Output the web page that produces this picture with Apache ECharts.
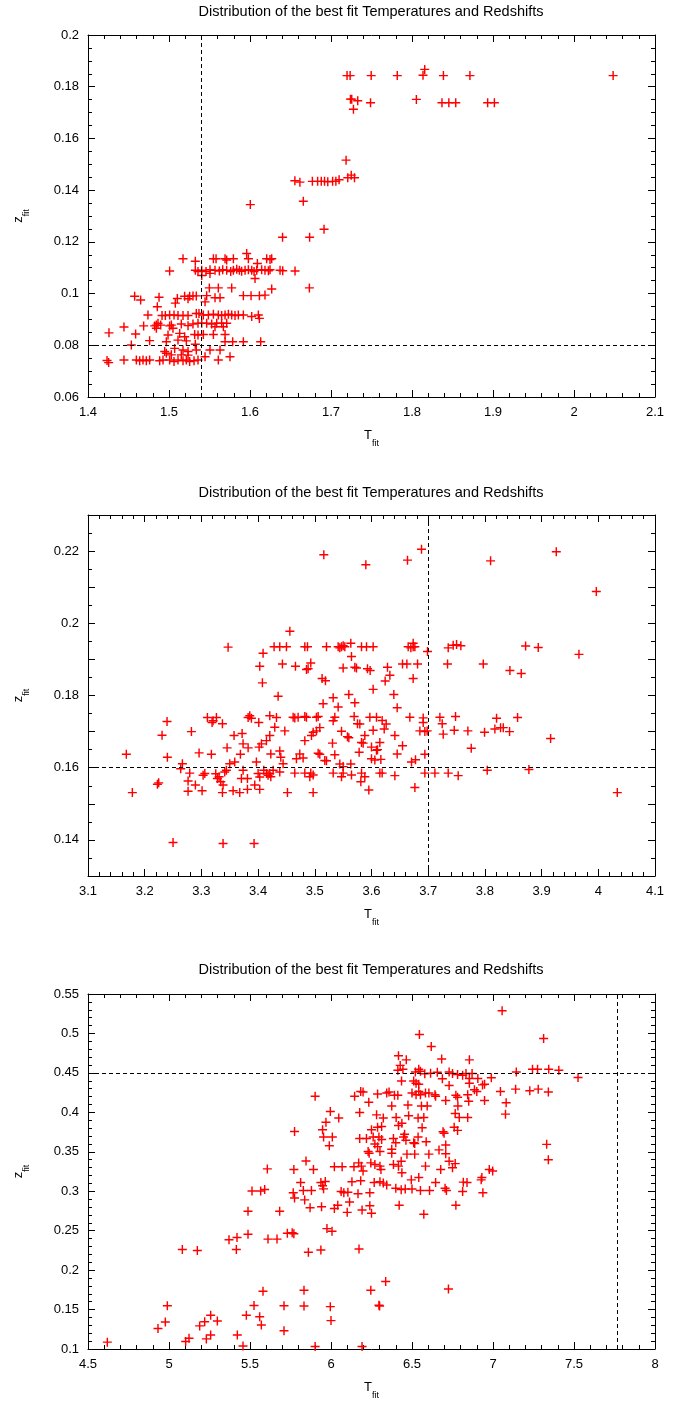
<!DOCTYPE html>
<html><head><meta charset="utf-8">
<script src="https://cdn.jsdelivr.net/npm/echarts@6/dist/echarts.min.js"></script>
<style>html,body{margin:0;padding:0;background:#fff}#c{width:682px;height:1401px}</style>
</head><body><div id="c"></div>
<script>
const chartTitle = 'Distribution of the best fit Temperatures and Redshifts';
const tCut = [1.54, 3.7, 7.77];
const zCut = [0.08, 0.16, 0.45];

const pts1 = [
[1.5173,0.1135],[1.5325,0.1125],[1.5008,0.1087],[1.5325,0.109],[1.5358,0.1085],
[1.4576,0.099],[1.465,0.0975],[1.4877,0.0986],[1.4856,0.0949],[1.5103,0.0981],[1.5078,0.0963],
[1.5193,0.099],[1.5255,0.099],[1.5296,0.0991],[1.5337,0.0991],[1.5235,0.098],
[1.474,0.0917],[1.4914,0.0915],[1.4955,0.0915],[1.5008,0.0917],[1.5062,0.0917],[1.5111,0.0915],[1.5173,0.0915],[1.5235,0.0915],
[1.5337,0.0923],[1.537,0.0923],
[1.4864,0.0885],[1.4897,0.0878],[1.4844,0.0878],
[1.5029,0.0878],[1.5152,0.0882],[1.5235,0.0876],[1.5296,0.0882],[1.5358,0.0885],
[1.4444,0.0871],[1.4687,0.0875],[1.4823,0.0875],[1.4844,0.0866],[1.5008,0.0875],[1.5049,0.0866],
[1.4259,0.0848],[1.4588,0.0844],[1.4988,0.084],[1.5132,0.0846],[1.5193,0.0833],[1.5317,0.0842],[1.5358,0.084],
[1.4761,0.0818],[1.4967,0.0814],[1.5111,0.082],[1.5214,0.0817],[1.5325,0.0804],
[1.4535,0.0801],
[1.4947,0.0776],[1.507,0.0788],[1.5173,0.0782],[1.5235,0.0776],[1.5337,0.0782],
[1.4235,0.0741],[1.4255,0.0733],[1.4444,0.0743],
[1.4597,0.0743],[1.4638,0.074],[1.4679,0.0743],[1.472,0.074],[1.4761,0.0743],
[1.4885,0.074],[1.4926,0.0743],
[1.5008,0.0743],[1.5062,0.0737],[1.5111,0.0743],[1.5173,0.074],[1.5214,0.0743],[1.5255,0.0737],[1.5309,0.074],[1.5358,0.0743],
[1.5029,0.0763],[1.4967,0.0769],[1.5152,0.0763],[1.5235,0.0762],
[1.5404,0.109],[1.5457,0.1085],[1.5506,0.1092],[1.5568,0.109],[1.5622,0.1087],[1.5663,0.1092],[1.5712,0.109],[1.5762,0.1085],
[1.5795,0.109],[1.5836,0.1094],[1.5869,0.109],[1.5897,0.1086],[1.5939,0.109],[1.598,0.1092],[1.6021,0.109],[1.605,0.1085],
[1.6083,0.109],[1.6144,0.1092],[1.6185,0.109],[1.6227,0.1088],[1.6247,0.1092],[1.6371,0.109],[1.6404,0.1088],[1.6556,0.1087],
[1.5548,0.1135],[1.5581,0.1135],[1.5692,0.1135],[1.5712,0.113],[1.5795,0.1135],[1.5959,0.1155],[1.598,0.1135],[1.6091,0.1116],
[1.6206,0.1135],[1.6247,0.1132],[1.6268,0.1135],
[1.6062,0.1058],[1.5404,0.107],[1.5506,0.1078],
[1.5498,0.1022],[1.5609,0.1022],[1.5774,0.1022],[1.6268,0.1018],[1.6733,0.1022],
[1.5465,0.0992],[1.5918,0.0992],[1.6013,0.0992],[1.6116,0.0992],[1.6185,0.0994],
[1.5568,0.0984],[1.563,0.0984],[1.5445,0.0968],
[1.5424,0.0917],[1.5486,0.0917],[1.5548,0.092],[1.5609,0.0917],[1.565,0.0915],[1.5692,0.0917],[1.5733,0.092],[1.5774,0.0917],
[1.5815,0.0915],[1.5856,0.0917],[1.5918,0.0917],
[1.6021,0.0911],[1.6103,0.0917],[1.6116,0.0904],
[1.5404,0.0885],[1.5465,0.0885],[1.5527,0.0882],[1.5589,0.0885],[1.565,0.0885],[1.5712,0.0885],
[1.5568,0.0872],[1.5671,0.0872],
[1.5424,0.0842],[1.5548,0.0842],[1.5692,0.0842],
[1.5692,0.0814],[1.5786,0.0814],[1.5918,0.0814],[1.6132,0.0814],
[1.5506,0.0782],[1.563,0.0782],
[1.5445,0.0756],[1.5753,0.0756],[1.5609,0.0743],
[1.6004,0.1344],[1.6658,0.1357],[1.6914,0.1249],[1.6402,0.1218],[1.6736,0.1218],
[1.7198,0.1843],[1.7236,0.1843],[1.7496,0.1843],[1.7818,0.1843],[1.8157,0.1867],[1.8136,0.1844],[1.8388,0.1843],[1.8715,0.1843],[2.0483,0.1843],
[1.724,0.1752],[1.7256,0.1752],[1.733,0.1746],[1.7277,0.1713],[1.7488,0.1738],[1.8054,0.1751],[1.837,0.1738],[1.8455,0.1738],[1.854,0.1738],[1.8934,0.1738],[1.9017,0.1738],
[1.7186,0.1516],[1.6554,0.1436],[1.6616,0.1431],[1.677,0.1434],[1.6835,0.1434],[1.688,0.1434],[1.692,0.1434],[1.696,0.1432],[1.702,0.1434],[1.706,0.1434],[1.71,0.144],
[1.7207,0.1448],[1.725,0.1458],[1.729,0.1448]
];

const pts2 = [
[3.1676,0.1637],[3.1782,0.1531],[3.2224,0.1554],[3.2247,0.1558],[3.2306,0.169],[3.2394,0.1728],[3.24,0.1629],[3.25,0.1393],
[3.2665,0.1611],[3.2635,0.1597],[3.2794,0.1585],[3.2765,0.1563],[3.2765,0.1535],[3.2824,0.17],[3.2894,0.1552],[3.2959,0.1641],
[3.3012,0.1536],[3.303,0.1579],[3.306,0.1584],[3.3106,0.1739],[3.3206,0.173],[3.3265,0.1739],[3.3188,0.1725],[3.3176,0.1637],
[3.3253,0.1583],[3.3282,0.157],[3.3312,0.1575],[3.3341,0.1561],[3.3371,0.1722],[3.3371,0.1531],[3.3382,0.139],[3.3382,0.1552],
[3.3441,0.1593],[3.3412,0.1588],[3.3453,0.1655],[3.3471,0.1934],[3.35,0.1611],[3.3559,0.1536],[3.3676,0.1531],[3.3576,0.1689],
[3.3588,0.1616],[3.3706,0.157],[3.3735,0.1593],[3.3718,0.1695],[3.3688,0.1637],[3.3735,0.1666],[3.3812,0.157],[3.3824,0.1655],
[3.3812,0.154],[3.3853,0.1744],[3.3882,0.1737],[3.3824,0.1739],[3.3941,0.1552],[3.3929,0.139],[3.397,0.1616],[3.4,0.1584],
[3.4029,0.1574],[3.4012,0.1725],[3.4018,0.1657],[3.4029,0.1881],[3.4029,0.154],[3.4059,0.1666],[3.4088,0.1917],[3.4076,0.1835],
[3.41,0.1593],[3.4147,0.1584],[3.4176,0.1579],[3.4224,0.1575],[3.4265,0.1593],[3.4206,0.1584],[3.4147,0.1675],[3.4206,0.1744],
[3.4206,0.1689],[3.4224,0.1638],[3.4282,0.1935],[3.4382,0.1935],[3.45,0.1935],[3.4353,0.1798],[3.4429,0.1887],[3.4294,0.1712],
[3.4324,0.1739],[3.4382,0.1646],[3.44,0.1629],[3.4382,0.1588],[3.4441,0.1611],[3.4471,0.1702],[3.4518,0.1531],[3.456,0.1978],
[3.5159,0.219],[3.59,0.2162],[3.6635,0.2175],[3.6882,0.2205],
[3.4824,0.1935],[3.4871,0.1935],[3.5206,0.1935],[3.5412,0.1935],[3.5441,0.1932],[3.5471,0.1935],[3.55,0.1938],[3.5529,0.1935],
[3.5824,0.1935],[3.5912,0.1935],[3.6029,0.1935],[3.6647,0.1935],[3.6694,0.1932],[3.6735,0.1935],[3.6765,0.1935],
[3.6735,0.1945],[3.5635,0.1945],[3.6988,0.1922],[3.5647,0.1908],[3.4659,0.1881],[3.4929,0.189],[3.4853,0.1872],[3.4882,0.1874],
[3.55,0.1876],[3.5706,0.1878],[3.5735,0.1876],[3.5929,0.1874],[3.5976,0.1869],[3.6282,0.1878],[3.6547,0.1887],[3.6624,0.1887],
[3.6812,0.1887],[3.6324,0.1856],[3.6241,0.184],[3.6735,0.1847],[3.5129,0.1847],[3.5188,0.1841],[3.6029,0.1817],[3.56,0.1803],
[3.6394,0.1803],[3.5324,0.1794],[3.5147,0.1777],[3.5706,0.178],[3.5412,0.1768],[3.6453,0.1766],
[3.4618,0.174],[3.4647,0.1738],[3.4706,0.174],[3.4824,0.1742],[3.4853,0.174],[3.5029,0.174],[3.5059,0.1742],[3.5353,0.174],
[3.5694,0.1742],[3.5971,0.174],[3.6088,0.174],[3.6676,0.174],[3.6912,0.1738],
[3.5324,0.173],[3.5753,0.1722],[3.5794,0.1721],[3.6188,0.1731],[3.6259,0.1721],[3.6912,0.1725],[3.6941,0.17],[3.6982,0.1702],
[3.6853,0.1702],[3.5088,0.1711],[3.4971,0.1698],[3.5029,0.1702],[3.5471,0.1701],[3.6029,0.1704],[3.6224,0.1707],[3.4824,0.1675],
[3.4941,0.1689],[3.5576,0.1686],[3.56,0.1683],[3.5882,0.1689],[3.5824,0.167],[3.5853,0.1668],[3.6147,0.167],[3.6412,0.1689],
[3.5312,0.1668],[3.6547,0.1661],[3.4735,0.1638],[3.5059,0.164],[3.5088,0.1637],[3.5353,0.1636],[3.5782,0.1643],[3.6,0.1657],
[3.6088,0.1648],[3.6106,0.165],[3.6453,0.1638],[3.6941,0.1637],[3.4676,0.1625],[3.4794,0.1627],[3.5176,0.162],[3.5206,0.1619],
[3.6,0.1625],[3.6059,0.1621],[3.6165,0.1623],[3.6706,0.1616],[3.6776,0.1622],[3.5441,0.161],[3.55,0.1603],[3.5635,0.161],
[3.4647,0.1585],[3.4824,0.1585],[3.4912,0.1575],[3.4929,0.1585],[3.4971,0.158],[3.5324,0.1585],[3.5471,0.1575],[3.55,0.1585],
[3.5647,0.158],[3.5824,0.1585],[3.5882,0.1575],[3.6147,0.1585],[3.6188,0.1585],[3.6412,0.1578],[3.6941,0.1585],[3.7118,0.1585],
[3.7353,0.1585],[3.7529,0.1578],
[3.5812,0.1561],[3.4971,0.1531],[3.5953,0.1538],[3.6765,0.1545],
[3.7353,0.1932],[3.7441,0.1939],[3.75,0.1941],[3.7576,0.1938],[3.7341,0.1887],[3.7206,0.174],[3.7247,0.1722],[3.7265,0.1693],
[3.7459,0.1704],[3.7482,0.1742],
[3.81,0.2173],[3.9259,0.2198],[3.9965,0.2088],[3.8718,0.1937],[3.8941,0.1933],[3.9659,0.1914],[3.7971,0.1887],[3.8441,0.1869],
[3.8641,0.1861],[3.77,0.1702],[3.7759,0.1654],[3.7994,0.1698],[3.8206,0.1737],[3.8176,0.1707],[3.8276,0.1711],[3.8324,0.1711],
[3.8435,0.17],[3.8576,0.1739],[3.9159,0.1681],[3.8041,0.1593],[3.8776,0.1595],[4.0335,0.1531]
];

const pts3 = [
[4.6193,0.1087],[4.932,0.126],[4.9774,0.1342],[4.9897,0.1548],[5.0823,0.2261],[5.1749,0.2248],[5.1029,0.1095],[5.1235,0.1136],
[5.1893,0.1293],[5.2202,0.1346],[5.2572,0.1429],[5.2984,0.1354],[5.2305,0.1128],[5.2572,0.1177],[5.3704,0.2384],[5.4198,0.2413],
[5.4156,0.2261],[5.4218,0.1177],[5.4568,0.1037],[5.4774,0.1429],[5.4877,0.2747],[5.4877,0.2454],[5.5123,0.3002],[5.5658,0.3002],
[5.5905,0.3023],[5.607,0.3283],[5.5247,0.1552],[5.5597,0.1408],[5.57,0.1305],[5.5802,0.1733],[5.6111,0.2393],[5.6667,0.2393],
[5.6831,0.2747],[5.7099,0.1548],[5.7099,0.1231],[5.7305,0.2467],
[6.5458,0.4986],[6.6188,0.4834],[6.4167,0.4718],[6.4646,0.4665],[6.6833,0.4677],[6.8542,0.4665],[6.4271,0.4595],
[6.4125,0.4533],[6.4438,0.4545],[6.5208,0.4512],[6.5417,0.4545],[6.5521,0.4521],
[6.4354,0.4397],[6.5104,0.4397],[6.525,0.4368],[6.5417,0.4356],
[6.579,0.4488],[6.6146,0.4496],[6.6563,0.4508],[6.6875,0.4426],[6.7292,0.4512],[6.75,0.4492],[6.7813,0.448],[6.8125,0.4471],
[6.8333,0.4492],[6.8542,0.443],[6.8708,0.4492],
[6.7292,0.434],[6.8542,0.4368],
[5.9021,0.4203],[6.1458,0.4203],[6.1833,0.4265],[6.1979,0.4257],[6.2875,0.4232],[6.3438,0.4245],[6.3583,0.4257],[6.3917,0.4216],
[6.4125,0.4216],[6.5,0.4245],[6.525,0.4224],[6.5417,0.4265],[6.5521,0.4224],[6.5833,0.4245],[6.6042,0.4245],[6.6417,0.4224],
[6.6458,0.4203],[6.7083,0.415],[6.7708,0.4216],[6.7813,0.4191],[6.8438,0.4224],[6.85,0.414],
[6.2333,0.4129],[6.375,0.408],[6.475,0.4092],[6.5583,0.408],[6.5938,0.408],[6.7833,0.408],
[5.9958,0.401],[6.0479,0.3927],[6.1771,0.3997],[6.2813,0.3968],[6.3229,0.3927],[6.4021,0.3935],[6.4792,0.3956],[6.5375,0.3927],
[6.5729,0.3935],[6.7667,0.3985],[6.7917,0.3935],[6.8438,0.3935],
[5.9688,0.3874],[6.4167,0.3833],[6.4375,0.3861],[5.9479,0.3779],[5.775,0.3758],[6.25,0.3779],[6.2875,0.3812],[6.3125,0.382],
[6.5625,0.3804],[6.6979,0.3734],[6.6917,0.3755],[6.7604,0.3812],[6.7813,0.3771],
[5.9542,0.3688],[6.0083,0.3688],[6.1771,0.3668],[6.2188,0.3668],[6.2604,0.3688],[6.2958,0.3688],[6.3125,0.3655],[6.3854,0.3668],
[6.4,0.3614],[6.4479,0.3688],[6.4625,0.3647],[6.4542,0.3721],[6.5375,0.3688],[6.5104,0.3614],[6.5167,0.3606],[6.5875,0.3627],
[5.9896,0.3577],[6.2708,0.3598],[6.2875,0.3565],[6.7083,0.3585],
[6.2292,0.3503],[6.2354,0.3482],[6.3021,0.3503],[6.375,0.3532],[6.375,0.3482],[6.4688,0.347],[6.5167,0.347],[6.6042,0.347],
[6.6667,0.3524],[6.7083,0.3474],
[5.8458,0.3384],[5.7708,0.3276],[5.8917,0.3276],[6.0208,0.331],[6.0688,0.331],[6.1417,0.331],[6.1708,0.3359],[6.1875,0.3318],
[6.1979,0.3256],[6.2458,0.3359],[6.2708,0.3338],[6.3021,0.3318],[6.3083,0.3276],[6.4167,0.3318],[6.3854,0.3338],[6.4333,0.3379],
[6.4375,0.3235],[6.5833,0.3318],[6.6771,0.3276],[6.7292,0.3379],[6.7667,0.335],[6.75,0.3297],
[5.8125,0.3111],[5.9375,0.3111],[5.9479,0.307],[5.9646,0.3124],[5.9542,0.303],[6.1292,0.312],[6.1833,0.3132],[6.2667,0.3111],
[6.3021,0.312],[6.3229,0.3103],[6.3438,0.3078],[6.4,0.3037],[6.4333,0.302],[6.4583,0.3029],[6.5,0.3029],[6.4958,0.3144],
[6.5417,0.3173],[6.552,0.3008],[6.6083,0.3008],[6.6458,0.3111],[6.7042,0.3037],[6.7125,0.3008],[6.8167,0.3115],[6.8125,0.2996],
[6.8396,0.3111],
[5.7667,0.298],[5.775,0.2915],[5.8292,0.3008],[5.8375,0.289],[5.8792,0.3008],[6.0625,0.2996],[6.0792,0.298],[6.1042,0.2988],
[6.1146,0.2864],[6.1667,0.2967],[6.2396,0.298],[6.2396,0.2815],[6.25,0.272],
[6.0208,0.2782],[6.0417,0.2823],[5.9417,0.2802],[5.8708,0.279],[6.1,0.2732],[6.1917,0.2761],[6.4208,0.2823],[6.5729,0.2708],
[6.7708,0.2823],
[5.7604,0.2473],[5.7708,0.246],[5.975,0.2526],[6.0063,0.2493],[5.8604,0.2226],[5.9375,0.2254],[6.1729,0.2267],
[6.3375,0.1855],[6.2458,0.1744],[5.8333,0.1744],[6.725,0.176],[5.8333,0.1546],[5.9958,0.1537],[6.2958,0.1554],[6.3,0.1546],
[6.0,0.136],[5.9021,0.1031],[6.1917,0.1031],
[7.0563,0.5287],[7.3125,0.4937],[7.1438,0.4512],[7.2438,0.4545],[7.275,0.4545],[7.3438,0.4545],[7.4063,0.4533],[7.525,0.4442],
[6.9063,0.443],[6.9896,0.4438],[6.9354,0.4348],[6.9479,0.4356],[6.9,0.4265],[6.8854,0.4286],[7.0458,0.4265],[7.1396,0.4294],
[7.2271,0.4273],[7.2792,0.4294],[7.3417,0.4257],[6.9479,0.415],[7.0813,0.4121],[7.0771,0.3977],[7.3313,0.3594],[7.3417,0.34],
[6.9771,0.3276],[6.9979,0.3256],[6.9271,0.3144],[6.9313,0.3173],[6.9375,0.298]
];

const panels = [
  {pts: pts1, x: {min:1.4, max:2.1, interval:0.1, minor:5}, y: {min:0.06, max:0.2, interval:0.02, minor:4}, top:35, height:362, titleTop:4},
  {pts: pts2, x: {min:3.1, max:4.1, interval:0.1, minor:5}, y: {min:0.13, max:0.23, interval:0.01, minor:2, every2:true}, top:515, height:361, titleTop:485},
  {pts: pts3, x: {min:4.5, max:8, interval:0.5, minor:5}, y: {min:0.1, max:0.55, interval:0.05, minor:5}, top:994, height:363, titleTop:962}
];

const FONT = '"Liberation Sans", Arial, Helvetica, sans-serif';
const plus = 'path://M0,4.2H10V5.8H0Z M4.2,0H5.8V10H4.2Z';
const nameRich = {
  m: {fontSize: 13, fontFamily: FONT, color: '#000', lineHeight: 19, verticalAlign: 'top'},
  s: {fontSize: 9, fontFamily: FONT, color: '#000', lineHeight: 19, verticalAlign: 'bottom'}
};

const grid = [], xAxis = [], yAxis = [], series = [], title = [];
panels.forEach((p, i) => {
  grid.push({left: 88, width: 567, top: p.top, height: p.height, show: false});
  title.push({text: chartTitle, left: 371, textAlign: 'center', top: p.titleTop, padding: 0,
    textStyle: {fontSize: 14.5, fontWeight: 'normal', color: '#000', fontFamily: FONT}});
  const line = {show: true, onZero: false, lineStyle: {color: '#000', width: 1}};
  const tick = {show: true, inside: true, length: 7, lineStyle: {color: '#000', width: 1}};
  const mt = (n) => ({show: true, splitNumber: n, length: 4, lineStyle: {color: '#000', width: 1}});
  const lab = {color: '#000', fontSize: 13, fontFamily: FONT};
  ['bottom', 'top'].forEach((pos) => {
    xAxis.push(Object.assign({type: 'value', gridIndex: i, position: pos, min: p.x.min, max: p.x.max, interval: p.x.interval,
      axisLine: line, axisTick: tick, minorTick: mt(p.x.minor), splitLine: {show: false}, minorSplitLine: {show: false},
      axisLabel: pos === 'bottom' ? Object.assign({margin: 9}, lab) : {show: false}},
      pos === 'bottom' ? {name: '{m|T}{s|fit}', nameLocation: 'middle', nameGap: 32, nameTextStyle: {rich: nameRich}} : {}));
  });
  ['left', 'right'].forEach((pos) => {
    const labelCfg = pos === 'left' ? Object.assign({margin: 9}, lab) : {show: false};
    if (pos === 'left' && p.y.every2) {
      labelCfg.formatter = (v) => (Math.round(v * 100) % 2 === 0 ? String(+v.toFixed(2)) : '');
    }
    yAxis.push(Object.assign({type: 'value', gridIndex: i, position: pos, min: p.y.min, max: p.y.max, interval: p.y.interval,
      axisLine: line, axisTick: tick, minorTick: mt(p.y.minor), splitLine: {show: false}, minorSplitLine: {show: false},
      axisLabel: labelCfg},
      pos === 'left' ? {name: '{m|z}{s|fit}', nameLocation: 'middle', nameRotate: 90, nameGap: 57, nameTextStyle: {rich: nameRich}} : {}));
  });
  series.push({
    type: 'scatter', xAxisIndex: 2 * i, yAxisIndex: 2 * i, data: p.pts,
    symbol: plus, symbolSize: 9, itemStyle: {color: '#ff0000', opacity: 1},
    markLine: {silent: true, symbol: ['none', 'none'], label: {show: false},
      lineStyle: {type: [4, 3], color: '#000', width: 1},
      data: [{xAxis: tCut[i]}, {yAxis: zCut[i]}]}
  });
});

const chart = echarts.init(document.getElementById('c'), null, {renderer: 'canvas'});
chart.setOption({animation: false, backgroundColor: '#fff', title, grid, xAxis, yAxis, series});
</script>
</body></html>
